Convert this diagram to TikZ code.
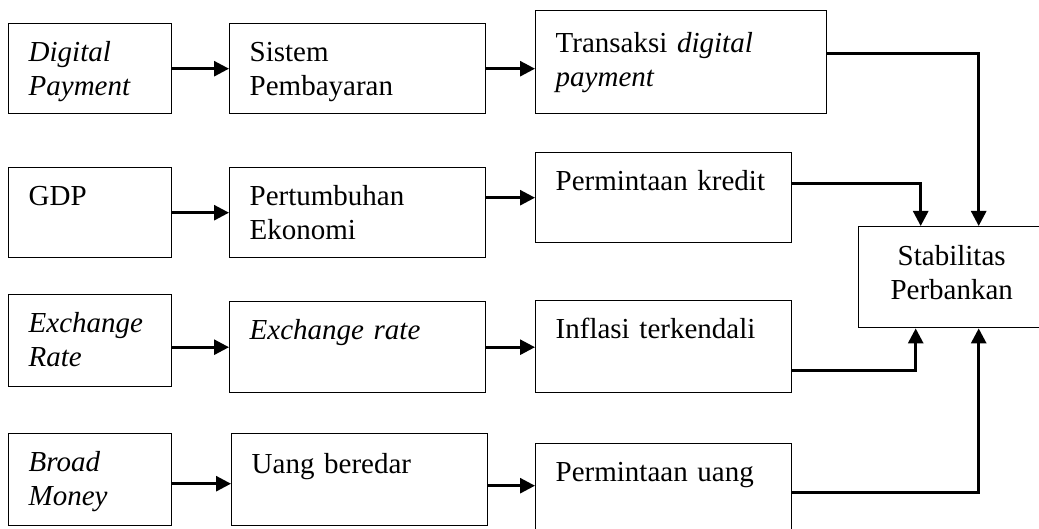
\documentclass[tikz,border=0pt]{standalone}
\usepackage{fontspec}
\setmainfont{Liberation Serif}
\usetikzlibrary{arrows.meta}
\usetikzlibrary{positioning}

\begin{document}
\begin{tikzpicture}[x=0.5pt,y=-0.5pt,
every node/.style={font=\fontsize{14.5}{16.7}\selectfont},
box/.style={draw, line width=0.7pt, anchor=north west, align=left,
  inner xsep=10pt, inner ysep=0pt, text width=#1,
  text height=19pt, text depth=26pt},
arr/.style={line width=1.4pt, -{Triangle[length=7.5pt,width=7.5pt]}}
]
\useasboundingbox (0,0) rectangle (1039,529);
\clip (0,0) rectangle (1039,529);

% kolom kiri
\node[box=61.5pt] (dp) at (8,23) {\textit{Digital}\\\textit{Payment}};
\node[box=61.5pt] (gdp) at (8,167) {GDP};
\node[box=61.5pt, text depth=27pt] (er) at (8,294) {\textit{Exchange}\\\textit{Rate}};
\node[box=61.5pt, text depth=27pt] (bm) at (8,433) {\textit{Broad}\\\textit{Money}};

% kolom tengah
\node[box=108pt] (sp) at (229,23) {Sistem\\Pembayaran};
\node[box=108pt] (pe) at (229,167) {Pertumbuhan\\Ekonomi};
\node[box=108pt, text depth=26.5pt] (erate) at (229,301) {\textit{Exchange rate}};
\node[box=108pt, text height=20pt, text depth=26pt] (ub) at (231,433) {Uang beredar};

% kolom kanan
\node[box=125.5pt, text height=21pt, text depth=30.5pt] (tdp) at (535,10) {Transaksi \textit{digital}\\\textit{payment}};
\node[box=108pt] (pk) at (535,152) {Permintaan kredit};
\node[box=108pt, text depth=27pt] (it) at (535,300) {Inflasi terkendali};
\node[box=108pt, text depth=30pt] (pu) at (535,443) {Permintaan uang};

\node[box=73pt, align=center, text height=19.5pt, text depth=31pt] (sb) at (858,226) {Stabilitas\\Perbankan};

\draw[arr] (dp) -- (sp);
\draw[arr] (gdp) -- (pe);
\draw[arr] (er.east |- erate.west) -- (erate.west);
\draw[arr] ([yshift=-2pt]bm.east) -- ([yshift=-2pt]bm.east -| ub.west);

\draw[arr] (sp.east) -- (sp.east -| tdp.west);
\draw[arr] (pe.east |- pk.west) -- (pk.west);
\draw[arr] (erate.east) -- (erate.east -| it.west);
\draw[arr] ([yshift=-3pt]ub.east) -- ([yshift=-3pt]ub.east -| pu.west);

\draw[arr] ([yshift=4.25pt]tdp.east) -| ([xshift=13.5pt]sb.north);
\draw[arr] ([yshift=7pt]pk.east) -| ([xshift=-15.5pt]sb.north);
\draw[arr] ([yshift=-12pt]it.east) -| ([xshift=-18pt]sb.south);
\draw[arr] (pu.east) -| ([xshift=13.5pt]sb.south);
\end{tikzpicture}
\end{document}
